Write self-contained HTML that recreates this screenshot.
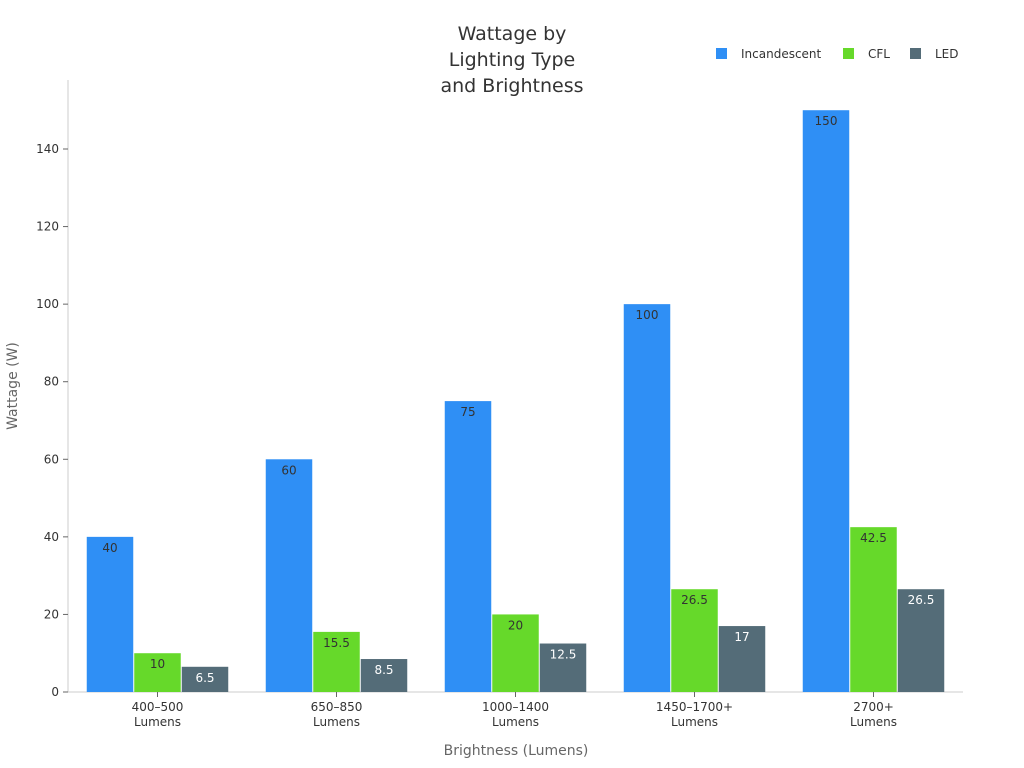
<!DOCTYPE html>
<html><head><meta charset="utf-8"><style>
body{margin:0;background:#fff;}
svg{display:block;font-family:"DejaVu Sans","Liberation Sans",sans-serif;}
</style></head><body>
<svg id="chart" width="1024" height="768">
<text x="512" y="40" text-anchor="middle" font-size="19" fill="#333">Wattage by</text>
<text x="512" y="66" text-anchor="middle" font-size="19" fill="#333">Lighting Type</text>
<text x="512" y="92" text-anchor="middle" font-size="19" fill="#333">and Brightness</text>
<g id="legend"></g>
<g id="axes"></g>
<g id="bars"></g>
<text transform="translate(17,386) rotate(-90)" text-anchor="middle" font-size="14" fill="#666">Wattage (W)</text>
<text x="516" y="755" text-anchor="middle" font-size="14" fill="#666">Brightness (Lumens)</text>
</svg>
<script>
const categories=[["400–500","Lumens"],["650–850","Lumens"],["1000–1400","Lumens"],["1450–1700+","Lumens"],["2700+","Lumens"]];
const seriesNames=["Incandescent","CFL","LED"];
const incandescent=[40,60,75,100,150];
const cfl=[10,15.5,20,26.5,42.5];
const led=[6.5,8.5,12.5,17,26.5];
const yTicks=[0,20,40,60,80,100,120,140];
const colors=["#2f8ff5","#66d92a","#546c78"];
const labelColors=["#333","#333","#fff"];
const series=[incandescent,cfl,led];
const NS="http://www.w3.org/2000/svg";
const x0=68,x1=963,y0=692,yTop=149,yTopVal=140;
const y=v=>y0-(v/yTopVal)*(y0-yTop);
const band=(x1-x0)/categories.length;
const bw=47.5;
function mk(tag,attrs,parent){const e=document.createElementNS(NS,tag);for(const k in attrs)e.setAttribute(k,attrs[k]);parent.appendChild(e);return e;}
const axes=document.getElementById('axes'),bars=document.getElementById('bars'),legend=document.getElementById('legend');
let ax=mk('line',{x1:x0,x2:x0,y1:80,y2:y0,stroke:'#ccc'},axes);


let bx=mk('line',{x1:x0,x2:x1,y1:y0,y2:y0,stroke:'#ccc'},axes);


yTicks.forEach(t=>{
 const tk=mk('line',{x1:x0-5,x2:x0,y1:y(t),y2:y(t),stroke:'#666'},axes);
 
 
 const tx=mk('text',{x:x0-9,y:y(t)+4,'text-anchor':'end','font-size':12,fill:'#333'},axes);
 
 
 tx.textContent=t;
});
categories.forEach((c,i)=>{
 const cx=x0+band*(i+0.5);
 const tk=mk('line',{x1:cx,x2:cx,y1:y0,y2:y0+5,stroke:'#666'},axes);
 
 
 c.forEach((ln,j)=>{
  const tx=mk('text',{x:cx,y:y0+19+j*15,'text-anchor':'middle','font-size':12,fill:'#333'},axes);
  
  
  tx.textContent=ln;
 });
 series.forEach((s,k)=>{
  const bxp=cx-1.5*bw+k*bw;
  const r=mk('rect',{x:bxp+0.5,y:y(s[i]),width:bw-1,height:y0-y(s[i]),fill:colors[k]},bars);
  
  
  const lb=mk('text',{x:bxp+bw/2,y:y(s[i])+15,'text-anchor':'middle','font-size':12,fill:labelColors[k]},bars);
  
  
  lb.textContent=s[i];
 });
});
const lx=[716,843,910];
seriesNames.forEach((n,k)=>{
 const r=mk('rect',{x:lx[k],y:48,width:11,height:11,fill:colors[k]},legend);
 
 
 const t=mk('text',{x:lx[k]+25,y:58,'font-size':12,fill:'#333'},legend);
 
 
 t.textContent=n;
});
</script>
</body></html>
